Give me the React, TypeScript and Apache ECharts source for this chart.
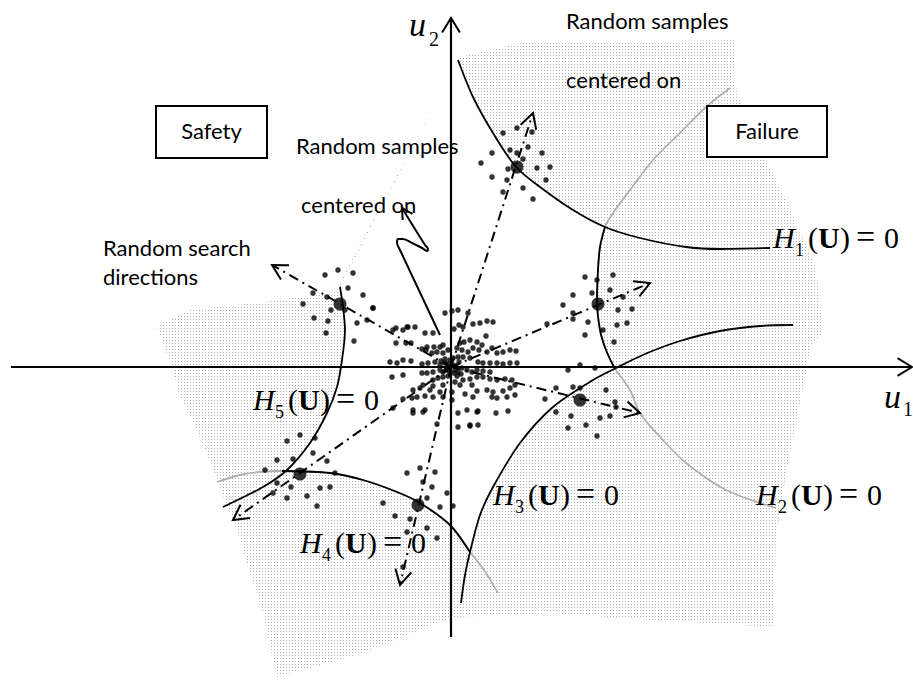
import React, { useEffect, useRef } from "react";
import * as echarts from "echarts";

// Standard normal space (u1, u2); the visible window of both axes
const U1_RANGE = [-4.51, 4.62];
const U2_RANGE = [-3.15, 3.67];

// Limit-state surfaces H_i(U) = 0, traced as (u1, u2) points
const H1_CURVE = [[0.07, 3.07], [0.22, 2.7], [0.42, 2.34], [0.65, 2.0], [0.89, 1.8], [1.22, 1.57], [1.54, 1.4], [1.89, 1.29], [2.35, 1.2], [2.69, 1.18], [3.19, 1.19]];
const H2_CURVE = [[2.79, 2.79], [2.55, 2.6], [2.29, 2.34], [2.02, 2.07], [1.79, 1.77], [1.62, 1.54], [1.54, 1.4], [1.49, 1.2], [1.47, 0.97], [1.46, 0.67], [1.49, 0.37], [1.55, 0.17], [1.63, 0.0], [1.79, -0.23], [1.89, -0.46], [2.09, -0.7], [2.35, -0.96], [2.75, -1.23], [3.25, -1.41]];
const H3_CURVE = [[0.1, -2.36], [0.14, -2.08], [0.19, -1.85], [0.29, -1.48], [0.42, -1.2], [0.69, -0.76], [1.02, -0.4], [1.42, -0.13], [1.65, -0.01], [1.94, 0.13], [2.29, 0.26], [2.69, 0.36], [3.09, 0.41], [3.42, 0.42]];
const H4_CURVE = [[-2.34, -1.15], [-2.11, -1.08], [-1.91, -1.05], [-1.69, -1.04], [-1.21, -1.06], [-0.88, -1.13], [-0.54, -1.25], [-0.31, -1.36], [-0.01, -1.58], [0.19, -1.85], [0.33, -2.03], [0.47, -2.26]];
const H5_CURVE = [[-2.28, -1.4], [-1.88, -1.2], [-1.64, -1.03], [-1.41, -0.76], [-1.24, -0.46], [-1.14, -0.2], [-1.09, 0.07], [-1.06, 0.37], [-1.08, 0.6], [-1.11, 0.8]];

// Portions of H2 and H4 that bound the failure domain (drawn solid black)
const H2_ACTIVE = [6, 13];
const H4_ACTIVE = [3, 10];

// Outline of the shaded failure domain
const FAILURE_DOMAIN = [[0.09, 3.1], [0.69, 3.24], [2.84, 3.27], [2.82, 2.84], [3.15, 2.07], [3.35, 1.67], [3.65, 1.0], [3.72, 0.34], [3.6, 0.22], [3.55, -0.06], [3.35, -1.06], [3.25, -1.73], [3.22, -2.6], [2.02, -2.53], [1.02, -2.46], [0.02, -2.5], [-0.88, -2.86], [-1.74, -3.1], [-1.88, -2.46], [-2.04, -1.96], [-2.14, -1.63], [-2.34, -1.13], [-2.54, -0.63], [-2.71, -0.3], [-2.78, -0.03], [-2.94, 0.4], [-2.61, 0.57], [-1.71, 0.67], [-1.16, 0.75]];

// Axes of the standard normal space
const U1_AXIS = [[-4.4, 0], [4.61, 0]];
const U2_AXIS = [[0, -2.7], [0, 3.49]];
const ORIGIN = [0, 0];

// Design points found on each limit state and the random search directions through them
const DESIGN_POINTS = [[0.66, 2.0], [1.47, 0.63], [1.29, -0.33], [-0.33, -1.38], [-1.51, -1.07], [-1.11, 0.63]];
const SEARCH_TIPS = [[0.82, 2.54], [1.99, 0.84], [1.89, -0.46], [-0.51, -2.18], [-2.18, -1.53], [-1.79, 1.02]];

// Random samples centred on the origin
const ORIGIN_SAMPLES = [
  [-0.06, 0.54], [0.01, 0.56], [0.07, 0.57], [0.17, 0.54], [0.22, 0.43], [0.29, 0.44], [0.36, 0.46], [0.42, 0.45],
  [0.08, 0.42], [0.12, 0.4], [-0.55, 0.39], [-0.48, 0.37], [-0.43, 0.4], [-0.36, 0.4], [-0.26, 0.34], [-0.18, 0.34],
  [0.03, 0.38], [0.35, 0.31], [-0.55, 0.24], [-0.45, 0.24], [-0.4, 0.24], [-0.24, 0.2], [-0.17, 0.2], [-0.11, 0.2],
  [-0.08, 0.22], [0.09, 0.24], [0.13, 0.25], [0.19, 0.27], [0.26, 0.25], [0.31, 0.22], [-0.29, 0.18], [-0.25, 0.17],
  [-0.19, 0.14], [-0.14, 0.15], [-0.08, 0.14], [-0.03, 0.17], [0.06, 0.19], [0.11, 0.17], [0.17, 0.15], [0.22, 0.19],
  [0.28, 0.17], [0.36, 0.15], [0.41, 0.19], [0.46, 0.14], [0.52, 0.15], [0.59, 0.17], [0.65, 0.16], [-0.61, 0.05],
  [-0.54, 0.04], [-0.48, 0.07], [-0.4, 0.06], [-0.29, 0.03], [-0.23, 0.04], [-0.16, 0.05], [-0.11, 0.02], [-0.06, 0.04],
  [-0.01, 0.07], [0.02, 0.09], [0.07, 0.1], [0.12, 0.1], [0.19, 0.09], [0.27, 0.05], [0.32, 0.04], [0.39, 0.04],
  [0.46, 0.04], [0.52, 0.03], [0.59, 0.04], [0.66, 0.04], [-0.11, -0.03], [-0.08, -0.05], [-0.04, -0.01], [0.04, -0.03],
  [0.07, -0.05], [0.11, -0.01], [0.16, -0.03], [0.21, -0.05], [0.26, -0.03], [0.32, -0.04], [0.39, -0.05], [-0.59, -0.1],
  [-0.48, -0.08], [-0.29, -0.06], [-0.24, -0.06], [-0.18, -0.05], [-0.18, -0.13], [-0.13, -0.11], [-0.08, -0.1], [-0.03, -0.09],
  [0.06, -0.09], [0.12, -0.13], [0.19, -0.12], [0.26, -0.1], [0.32, -0.1], [0.39, -0.12], [0.46, -0.13], [0.54, -0.12],
  [0.61, -0.13], [-0.28, -0.18], [-0.18, -0.19], [-0.08, -0.18], [0.04, -0.15], [0.09, -0.18], [0.21, -0.18], [0.26, -0.24],
  [0.36, -0.23], [0.42, -0.25], [0.52, -0.24], [0.59, -0.21], [0.64, -0.18], [-0.38, -0.23], [-0.31, -0.21], [-0.21, -0.23],
  [-0.11, -0.25], [0.01, -0.25], [0.14, -0.27], [0.22, -0.3], [0.41, -0.3], [0.46, -0.31], [0.56, -0.3], [0.64, -0.28],
  [-0.39, -0.31], [-0.34, -0.3], [-0.26, -0.29], [-0.18, -0.3], [-0.08, -0.3], [0.01, -0.33], [-0.48, -0.32], [-0.58, -0.41],
  [-0.38, -0.46], [-0.26, -0.43], [0.07, -0.46], [0.16, -0.43], [0.27, -0.44], [0.45, -0.46], [0.57, -0.44], [-0.14, -0.57],
  [0.07, -0.6], [0.19, -0.59], [0.27, -0.58], [-0.78, 0.59], [-0.58, 0.37], [-0.44, 0.4], [-0.38, -0.43], [-0.28, -0.45],
  [0.19, -0.58], [0.26, -0.45], [0.02, 0.02], [-0.03, 0.03], [0.05, 0.01], [-0.05, -0.03], [0.03, -0.06], [-0.02, -0.04],
  [0.08, 0.05], [-0.06, 0.08], [0.1, -0.07], [-0.1, 0.06],
];

// Random samples centred on each design point
const SAMPLES_P1 = [[0.52, 2.34], [0.66, 2.39], [0.81, 2.35], [0.41, 2.14], [0.59, 2.17], [0.66, 2.14], [0.77, 2.2], [0.91, 2.14], [0.99, 2.0], [0.3, 2.04], [0.86, 1.99], [0.95, 1.87], [0.41, 1.9], [0.56, 1.87], [0.72, 1.79], [0.52, 1.75], [0.82, 1.68], [0.57, 1.98], [0.72, 2.08]];
const SAMPLES_P2 = [[1.34, 0.9], [1.62, 0.92], [1.22, 0.72], [1.41, 0.74], [1.59, 0.77], [1.72, 0.7], [1.12, 0.62], [1.67, 0.57], [1.81, 0.58], [1.22, 0.48], [1.37, 0.45], [1.66, 0.42], [1.76, 0.44], [1.34, 0.32], [1.63, 0.25], [1.52, 0.37], [1.22, 0.54], [1.46, 0.87], [0.96, 0.43]];
const SAMPLES_P3 = [[1.17, -0.03], [1.29, 0.02], [1.44, -0.01], [1.29, -0.21], [1.55, -0.23], [1.64, -0.35], [1.2, -0.49], [1.35, -0.58], [1.49, -0.51], [1.59, -0.49], [1.17, -0.61], [1.46, -0.69], [0.94, -0.32], [1.05, -0.45], [1.65, -0.4], [1.05, -0.21], [1.22, -0.2]];
const SAMPLES_P4 = [[-0.44, -1.06], [-0.31, -1.01], [-0.16, -1.05], [-0.28, -1.15], [-0.19, -1.2], [-0.04, -1.26], [-0.11, -1.4], [0.02, -1.39], [-0.24, -1.31], [-0.56, -1.49], [-0.41, -1.52], [-0.24, -1.61], [-0.14, -1.71], [-0.44, -1.65], [-0.68, -1.36], [-0.48, -2.0]];
const SAMPLES_P5 = [[-1.64, -0.74], [-1.51, -0.68], [-1.36, -0.71], [-1.74, -0.93], [-1.58, -0.92], [-1.38, -0.86], [-1.24, -0.94], [-1.86, -1.03], [-1.74, -1.16], [-1.6, -1.2], [-1.44, -1.29], [-1.31, -1.21], [-1.21, -1.2], [-1.34, -1.39], [-1.64, -1.31], [-1.16, -1.06], [-1.78, -1.26]];
const SAMPLES_P6 = [[-1.26, 0.92], [-1.13, 0.97], [-0.98, 0.94], [-1.38, 0.74], [-1.24, 0.7], [-1.03, 0.79], [-0.88, 0.72], [-1.48, 0.63], [-1.2, 0.57], [-1.06, 0.57], [-0.78, 0.59], [-1.37, 0.49], [-1.23, 0.46], [-0.94, 0.44], [-1.25, 0.34], [-0.97, 0.26], [-0.84, 0.47]];

// Pointer from the origin cloud to its caption
const CAPTION_POINTER = [[-0.11, 0.32], [-0.51, 1.17], [-0.54, 1.24], [-0.53, 1.28], [-0.48, 1.28], [-0.39, 1.24], [-0.29, 1.19], [-0.24, 1.16], [-0.23, 1.18], [-0.26, 1.22], [-0.49, 1.59]];

// Captions: [text, left, baseline]
const CAPTIONS: [string, number, number][] = [
  ["Random samples", 566, 29],
  ["centered on", 566, 88],
  ["Random samples", 296, 154],
  ["centered on", 301, 213],
  ["Random search", 103, 256],
  ["directions", 103, 285],
];
// Region boxes: [text, x, y, width, height]
const REGION_BOXES: [string, number, number, number, number][] = [
  ["Safety", 156, 106, 111, 52],
  ["Failure", 707, 106, 120, 51],
];
// Limit-state labels: [index, left, baseline]
const H_LABELS: [string, number, number][] = [
  ["1", 773, 248],
  ["2", 756, 505],
  ["3", 493, 505],
  ["4", 300, 553],
  ["5", 253, 410],
];

const SERIF = '"Liberation Serif", "Times New Roman", serif';
const SANS = 'Lato, "Noto Sans", sans-serif';

function dotTile(): string {
  const c = document.createElement("canvas");
  c.width = 3;
  c.height = 3;
  const g = c.getContext("2d")!;
  g.fillStyle = "#ffffff";
  g.fillRect(0, 0, 3, 3);
  g.fillStyle = "#adadad";
  g.fillRect(1, 1, 1, 1);
  return c.toDataURL();
}

function text(x: number, baseline: number, str: string, font: string, size: number, k: number, align = "left") {
  return {
    type: "text",
    x,
    y: baseline - k * size,
    z: 100,
    silent: true,
    style: {
      text: str,
      font,
      fill: "#000",
      align,
      textAlign: align,
      verticalAlign: "middle",
      textVerticalAlign: "middle",
    },
  };
}

function hLabel(idx: string, x: number, base: number) {
  const k = 0.34;
  return [
    text(x, base, "H", `italic 30px ${SERIF}`, 30, k),
    text(x + 22, base + 8, idx, `18px ${SERIF}`, 18, k),
    text(x + 35, base, "(", `30px ${SERIF}`, 30, k),
    text(x + 45, base, "U", `bold 30px ${SERIF}`, 30, k),
    text(x + 67, base, ")", `30px ${SERIF}`, 30, k),
    text(x + 83, base, "=", `34px ${SERIF}`, 34, 0.33),
    text(x + 111, base, "0", `30px ${SERIF}`, 30, k),
  ];
}

function lineSeries(data: number[][], color: string, width: number, z: number, smooth: number | boolean = 0.3, type: any = "solid") {
  return {
    type: "line",
    data,
    smooth,
    symbol: "none",
    silent: true,
    z,
    lineStyle: { color, width, type },
  };
}

function arrowSeries(data: number[][], len: number, spread: number) {
  return {
    type: "custom",
    coordinateSystem: "cartesian2d",
    silent: true,
    clip: false,
    z: 6,
    data,
    renderItem: (_p: any, api: any) => {
      const tip = api.coord([api.value(0), api.value(1)]);
      const from = api.coord([api.value(2), api.value(3)]);
      const a = Math.atan2(from[1] - tip[1], from[0] - tip[0]);
      const w1 = [tip[0] + len * Math.cos(a + spread), tip[1] + len * Math.sin(a + spread)];
      const w2 = [tip[0] + len * Math.cos(a - spread), tip[1] + len * Math.sin(a - spread)];
      return {
        type: "polyline",
        shape: { points: [w1, tip, w2] },
        style: { stroke: "#000", lineWidth: 2, fill: null },
      };
    },
  };
}

function polygonSeries(points: number[][], fill: any, z: number) {
  return {
    type: "custom",
    coordinateSystem: "cartesian2d",
    silent: true,
    clip: false,
    z,
    data: [[0, 0]],
    renderItem: (_p: any, api: any) => ({
      type: "polygon",
      shape: { points: points.map((pt) => api.coord(pt)) },
      style: { fill, stroke: null },
    }),
  };
}

export default function App() {
  const ref = useRef<HTMLDivElement>(null);

  useEffect(() => {
    if (!ref.current) return;
    const chart = echarts.init(ref.current, undefined, { renderer: "svg" });

    const safeRegion = [
      ...H1_CURVE.slice(0, 7),
      ...H2_CURVE.slice(7, 13),
      ...H3_CURVE.slice(2, 8).reverse(),
      ...H4_CURVE.slice(3, 9).reverse(),
      ...H5_CURVE.slice(2),
    ];

    const shadeFill = { image: dotTile(), repeat: "repeat", imageWidth: 3, imageHeight: 3 };

    const samples = [
      ...ORIGIN_SAMPLES,
      ...SAMPLES_P1,
      ...SAMPLES_P2,
      ...SAMPLES_P3,
      ...SAMPLES_P4,
      ...SAMPLES_P5,
      ...SAMPLES_P6,
    ];

    const searchArrows = SEARCH_TIPS.map((t) => [t[0], t[1], ORIGIN[0], ORIGIN[1]]);
    const axisArrows = [
      [U1_AXIS[1][0], U1_AXIS[1][1], U1_AXIS[0][0], U1_AXIS[0][1]],
      [U2_AXIS[1][0], U2_AXIS[1][1], U2_AXIS[0][0], U2_AXIS[0][1]],
    ];
    const n = CAPTION_POINTER.length;
    const pointerArrow = [[CAPTION_POINTER[n - 1][0], CAPTION_POINTER[n - 1][1], CAPTION_POINTER[n - 2][0], CAPTION_POINTER[n - 2][1]]];

    const graphics: any[] = [];
    for (const [label, x, y, w, h] of REGION_BOXES) {
      graphics.push({
        type: "rect",
        z: 99,
        silent: true,
        shape: { x, y, width: w, height: h },
        style: { fill: "#fff", stroke: "#000", lineWidth: 2 },
      });
      graphics.push(text(x + w / 2, y + 33, label, `22px ${SANS}`, 22, 0.387, "center"));
    }
    for (const [str, x, base] of CAPTIONS) {
      graphics.push(text(x, base, str, `22px ${SANS}`, 22, 0.387));
    }
    for (const [idx, x, base] of H_LABELS) {
      graphics.push(...hLabel(idx, x, base));
    }
    // axis names u1, u2
    graphics.push(text(409, 36, "u", `italic 34px ${SERIF}`, 34, 0.34));
    graphics.push(text(429, 46, "2", `20px ${SERIF}`, 20, 0.34));
    graphics.push(text(884, 408, "u", `italic 34px ${SERIF}`, 34, 0.34));
    graphics.push(text(903, 416, "1", `20px ${SERIF}`, 20, 0.34));

    chart.setOption({
      animation: false,
      grid: { left: 0, right: 0, top: 0, bottom: 0 },
      xAxis: { type: "value", min: U1_RANGE[0], max: U1_RANGE[1], show: false },
      yAxis: { type: "value", min: U2_RANGE[0], max: U2_RANGE[1], show: false },
      series: [
        polygonSeries(FAILURE_DOMAIN, shadeFill, 1),
        polygonSeries(safeRegion, "#ffffff", 1),
        lineSeries(H2_CURVE, "#b0b0b0", 1.8, 3),
        lineSeries(H4_CURVE, "#b0b0b0", 1.8, 3),
        lineSeries(H1_CURVE, "#000", 1.8, 3),
        lineSeries(H2_CURVE.slice(H2_ACTIVE[0], H2_ACTIVE[1]), "#000", 1.8, 3),
        lineSeries(H3_CURVE, "#000", 1.8, 3),
        lineSeries(H4_CURVE.slice(H4_ACTIVE[0], H4_ACTIVE[1]), "#000", 1.8, 3),
        lineSeries(H5_CURVE, "#000", 1.8, 3),
        lineSeries(U1_AXIS, "#000", 2.2, 4, false),
        lineSeries(U2_AXIS, "#000", 2.2, 4, false),
        ...SEARCH_TIPS.map((t) => lineSeries([ORIGIN, t], "#000", 2, 4, false, [10, 5, 2, 5])),
        lineSeries(CAPTION_POINTER, "#000", 2, 4, 0.35),
        arrowSeries(searchArrows, 17, 0.5),
        arrowSeries(axisArrows, 17, 0.55),
        arrowSeries(pointerArrow, 12, 0.5),
        {
          type: "scatter",
          data: samples,
          symbol: "circle",
          symbolSize: 5.5,
          silent: true,
          z: 5,
          itemStyle: { color: "#000" },
        },
        {
          type: "scatter",
          data: DESIGN_POINTS,
          symbol: "circle",
          symbolSize: 13,
          silent: true,
          z: 5,
          itemStyle: { color: "#000" },
        },
      ],
      graphic: { elements: graphics },
    });

    return () => chart.dispose();
  }, []);

  return (
    <div
      ref={ref}
      style={{ position: "absolute", left: 0, top: 0, width: 913, height: 682, background: "#fff" }}
    />
  );
}
